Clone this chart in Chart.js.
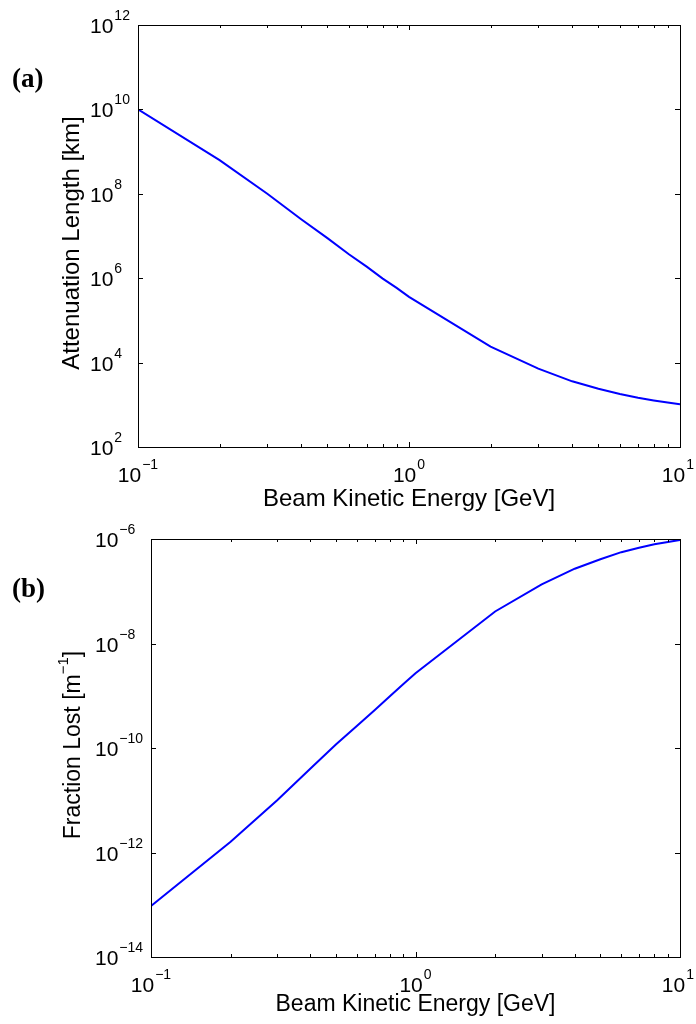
<!DOCTYPE html>
<html lang="en">
<head>
    <meta charset="UTF-8">
    <title>Attenuation Length and Fraction Lost</title>
    <script src="https://cdn.jsdelivr.net/npm/chart.js@4.4.1/dist/chart.umd.min.js"></script>
    <style>
        body {
            margin: 0;
            background-color: #fff;
        }
        .panel {
            position: absolute;
            left: 0;
            width: 696px;
            height: 512px;
        }
        #panelA { top: 0; }
        #panelB { top: 512px; }
    </style>
</head>
<body>
    <div class="panel" id="panelA"><canvas id="chartA" width="696" height="512"></canvas></div>
    <div class="panel" id="panelB"><canvas id="chartB" width="696" height="512"></canvas></div>

    <script>
        // data
        var energy = [0.1, 0.2, 0.3, 0.4, 0.5, 0.6, 0.7, 0.8, 0.9, 1, 2, 3, 4, 5, 6, 7, 8, 9, 10];
        var attenuationKm = [1.0e10, 6.3e8, 1.0e8, 2.5e7, 8.9e6, 3.7e6, 1.85e6, 9.8e5, 5.9e5, 3.6e5,
                             2.4e4, 7.2e3, 3.6e3, 2.4e3, 1.8e3, 1.47e3, 1.27e3, 1.13e3, 1.03e3];
        var fractionLost = [9.5e-14, 1.6e-12, 1.0e-11, 4.0e-11, 1.17e-10, 2.65e-10, 5.3e-10, 9.8e-10, 1.68e-9, 2.7e-9,
                            4.1e-8, 1.35e-7, 2.7e-7, 4.1e-7, 5.6e-7, 6.8e-7, 7.9e-7, 8.8e-7, 9.6e-7];

        var xMajorTicks = [0.1, 1, 10];
        var xMinorTicks = [0.2, 0.3, 0.4, 0.5, 0.6, 0.7, 0.8, 0.9, 2, 3, 4, 5, 6, 7, 8, 9];
        var xTickExp = ['\u22121', '0', '1'];
        var yTicksA = [1e2, 1e4, 1e6, 1e8, 1e10, 1e12];
        var yTickExpA = ['2', '4', '6', '8', '10', '12'];
        var yTicksB = [1e-14, 1e-12, 1e-10, 1e-8, 1e-6];
        var yTickExpB = ['\u221214', '\u221212', '\u221210', '\u22128', '\u22126'];

        var SANS = '"Liberation Sans", Arial, sans-serif';

        function toPoints(xs, ys) {
            var pts = [];
            for (var i = 0; i < xs.length; i++) {
                pts.push({ x: xs[i], y: ys[i] });
            }
            return pts;
        }

        // draws "10" with a raised exponent
        function drawPow(ctx, x, y, exp, align) {
            ctx.font = '21px ' + SANS;
            var wBase = ctx.measureText('10').width;
            ctx.font = '14px ' + SANS;
            var wExp = ctx.measureText(exp).width;
            var start = x;
            if (align === 'center') start = x - (wBase + wExp + 1) / 2;
            if (start + wBase + wExp + 1 > 694) start = 694 - wBase - wExp - 1;
            ctx.textAlign = 'left';
            ctx.textBaseline = 'alphabetic';
            ctx.font = '21px ' + SANS;
            ctx.fillText('10', start, y);
            ctx.font = '14px ' + SANS;
            ctx.fillText(exp, start + wBase + 1, y - 13);
        }

        function decorPlugin(o) {
            return {
                id: 'decor',
                afterDraw: function(chart) {
                    var ctx = chart.ctx;
                    var a = chart.chartArea;
                    var xs = chart.scales.x, ys = chart.scales.y;
                    ctx.save();
                    ctx.strokeStyle = '#000';
                    ctx.fillStyle = '#000';
                    ctx.lineWidth = 1;

                    // box
                    ctx.strokeRect(Math.round(a.left) + 0.5, Math.round(a.top) + 0.5,
                                   Math.round(a.right - a.left), Math.round(a.bottom - a.top));

                    // inward ticks
                    ctx.beginPath();
                    function xTick(v, len) {
                        var px = Math.round(xs.getPixelForValue(v)) + 0.5;
                        ctx.moveTo(px, a.bottom); ctx.lineTo(px, a.bottom - len);
                        ctx.moveTo(px, a.top); ctx.lineTo(px, a.top + len);
                    }
                    xMajorTicks.forEach(function(v) { xTick(v, 5); });
                    xMinorTicks.forEach(function(v) { xTick(v, 3); });
                    o.yTicks.forEach(function(v) {
                        var py = Math.round(ys.getPixelForValue(v)) + 0.5;
                        ctx.moveTo(a.left, py); ctx.lineTo(a.left + 5, py);
                        ctx.moveTo(a.right, py); ctx.lineTo(a.right - 5, py);
                    });
                    ctx.stroke();

                    // tick labels
                    xMajorTicks.forEach(function(v, i) {
                        drawPow(ctx, xs.getPixelForValue(v), a.bottom + 35, xTickExp[i], 'center');
                    });
                    o.yTicks.forEach(function(v, i) {
                        drawPow(ctx, o.yLabelX, ys.getPixelForValue(v) + 8, o.yTickExp[i], 'left');
                    });

                    // x title
                    ctx.textAlign = 'center';
                    ctx.font = o.titleSize + 'px ' + SANS;
                    ctx.fillText('Beam Kinetic Energy [GeV]', (a.left + a.right) / 2, o.xTitleY);

                    // y title, rotated
                    ctx.save();
                    ctx.translate(o.yTitleX, o.yTitleY);
                    ctx.rotate(-Math.PI / 2);
                    ctx.font = o.titleSize + 'px ' + SANS;
                    if (o.yTitleSup) {
                        var w1 = ctx.measureText(o.yTitle).width;
                        var w3 = ctx.measureText(']').width;
                        ctx.font = '15px ' + SANS;
                        var w2 = ctx.measureText(o.yTitleSup).width;
                        var s = -(w1 + w2 + w3) / 2;
                        ctx.textAlign = 'left';
                        ctx.font = o.titleSize + 'px ' + SANS;
                        ctx.fillText(o.yTitle, s, 0);
                        ctx.fillText(']', s + w1 + w2, 0);
                        ctx.font = '15px ' + SANS;
                        ctx.fillText(o.yTitleSup, s + w1, -12);
                    } else {
                        ctx.fillText(o.yTitle, 0, 0);
                    }
                    ctx.restore();

                    // panel letter
                    ctx.textAlign = 'left';
                    ctx.font = 'bold 27px "Liberation Serif", "Times New Roman", serif';
                    ctx.fillText(o.letter, 12, o.letterY);
                    ctx.restore();
                }
            };
        }

        function makeChart(id, pts, yMin, yMax, pad, deco) {
            return new Chart(document.getElementById(id), {
                type: 'line',
                data: {
                    datasets: [{
                        data: pts,
                        borderColor: '#0000ff',
                        borderWidth: 2,
                        pointRadius: 0,
                        tension: 0,
                        fill: false
                    }]
                },
                options: {
                    responsive: false,
                    animation: false,
                    layout: { padding: pad },
                    plugins: {
                        legend: { display: false },
                        tooltip: { enabled: false }
                    },
                    scales: {
                        x: { type: 'logarithmic', min: 0.1, max: 10, display: false },
                        y: { type: 'logarithmic', min: yMin, max: yMax, display: false }
                    }
                },
                plugins: [decorPlugin(deco)]
            });
        }

        makeChart('chartA', toPoints(energy, attenuationKm), 1e2, 1e12,
            { left: 138, right: 16, top: 25, bottom: 65 },
            {
                yTicks: yTicksA, yTickExp: yTickExpA, yLabelX: 90,
                titleSize: 24, xTitleY: 506,
                yTitle: 'Attenuation Length [km]', yTitleX: 79, yTitleY: 243,
                letter: '(a)', letterY: 87
            });

        makeChart('chartB', toPoints(energy, fractionLost), 1e-14, 1e-6,
            { left: 151, right: 16, top: 27, bottom: 67 },
            {
                yTicks: yTicksB, yTickExp: yTickExpB, yLabelX: 95,
                titleSize: 23, xTitleY: 499,
                yTitle: 'Fraction Lost [m', yTitleSup: '\u22121', yTitleX: 80, yTitleY: 233,
                letter: '(b)', letterY: 85
            });
    </script>
</body>
</html>
